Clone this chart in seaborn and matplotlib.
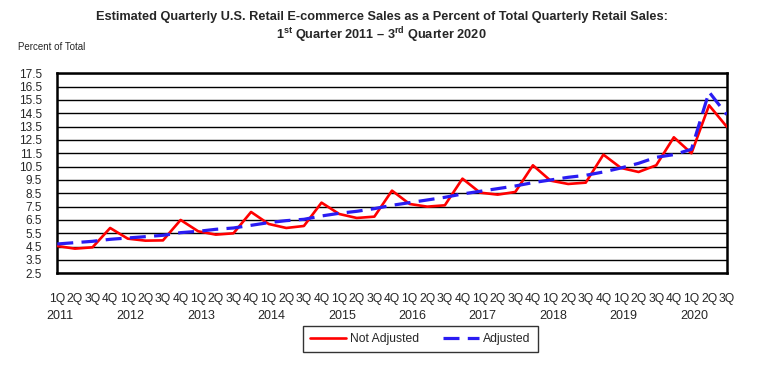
import numpy as np
import pandas as pd
import seaborn as sns
import matplotlib.pyplot as plt
from matplotlib import font_manager

sns.set_style('white')
installed = {f.name for f in font_manager.fontManager.ttflist}
base_font = 'Liberation Sans Narrow' if 'Liberation Sans Narrow' in installed else 'Liberation Sans'
plt.rcParams['font.family'] = [base_font, 'DejaVu Sans']
plt.rcParams['mathtext.fontset'] = 'custom'
plt.rcParams['mathtext.rm'] = base_font
plt.rcParams['mathtext.bf'] = base_font + ':bold'

# Quarters 1Q 2011 .. 3Q 2020
years = list(range(2011, 2021))
quarter_labels = ['1Q', '2Q', '3Q', '4Q'] * 9 + ['1Q', '2Q', '3Q']

not_adjusted = [4.55, 4.35, 4.45, 5.9, 5.1, 4.95, 4.97, 6.5, 5.65, 5.4,
                5.5, 7.1, 6.2, 5.9, 6.05, 7.8, 6.95, 6.65, 6.75, 8.7,
                7.7, 7.5, 7.6, 9.6, 8.55, 8.4, 8.6, 10.6, 9.45, 9.2,
                9.3, 11.4, 10.4, 10.1, 10.6, 12.7, 11.5, 15.1, 13.5]
adjusted = [4.7, 4.8, 4.9, 5.05, 5.15, 5.25, 5.35, 5.55, 5.65, 5.8,
            5.9, 6.1, 6.3, 6.45, 6.55, 6.8, 7.0, 7.15, 7.35, 7.6,
            7.8, 8.0, 8.2, 8.45, 8.65, 8.85, 9.05, 9.3, 9.5, 9.7,
            9.85, 10.1, 10.4, 10.75, 11.2, 11.4, 11.8, 16.1, 14.4]

df = pd.DataFrame({'quarter': np.arange(len(quarter_labels)),
                   'Not Adjusted': not_adjusted,
                   'Adjusted': adjusted})

fig = plt.figure(figsize=(7.63, 3.69), dpi=100)
ax = fig.add_axes([0.0751, 0.2593, 0.8773, 0.5421])

# Horizontal grid lines
yticks = np.arange(2.5, 17.6, 1.0)
for y in yticks:
    ax.axhline(y, color='black', lw=1.0, zorder=1)

sns.lineplot(data=df, x='quarter', y='Not Adjusted', color='#ff0000', lw=1.9,
             ax=ax, label='Not Adjusted', zorder=3)
sns.lineplot(data=df, x='quarter', y='Adjusted', color='#2a1cf2', lw=2.3,
             linestyle=(0, (5, 2.6)), ax=ax, label='Adjusted', zorder=4)

ax.set_xlim(0, len(quarter_labels) - 1)
ax.set_ylim(2.5, 17.5)
ax.set_yticks(yticks)
ax.set_yticklabels([f'{v:.1f}' for v in yticks], fontsize=8.5)
ax.set_xticks(df['quarter'])
ax.set_xticklabels(quarter_labels, fontsize=8.7)
ax.tick_params(axis='x', direction='out', length=5, width=1.5, pad=9, color='black')
ax.tick_params(axis='y', direction='out', length=3, width=1.5, pad=8, color='black')
ax.set_xlabel('')
ax.set_ylabel('')
for s in ax.spines.values():
    s.set_color('black')
    s.set_linewidth(1.8)

# Year labels under each 1Q tick
for k, yr in enumerate(years):
    ax.text(k * 4 + 0.15, -0.213, str(yr), transform=ax.get_xaxis_transform(),
            ha='center', va='center', fontsize=9)

fig.text(0.5, 0.954, 'Estimated Quarterly U.S. Retail E-commerce Sales as a Percent of Total Quarterly Retail Sales:',
         ha='center', va='center', fontsize=9.2, fontweight='bold')
fig.text(0.5, 0.905, r'1$^{\mathbf{st}}$ Quarter 2011 – 3$^{\mathbf{rd}}$ Quarter 2020',
         ha='center', va='center', fontsize=9.2, fontweight='bold')
fig.text(0.024, 0.873, 'Percent of Total', ha='left', va='center', fontsize=7)

leg = ax.legend(loc='upper center', bbox_to_anchor=(0.542, -0.263), ncol=2,
                frameon=True, fancybox=False, fontsize=8.7, handlelength=3.0,
                columnspacing=2.0, borderpad=0.6, handletextpad=0.3,
                borderaxespad=0)
leg.get_frame().set_edgecolor('black')
leg.get_frame().set_linewidth(1.0)

fig.savefig('out.png', dpi=100)
